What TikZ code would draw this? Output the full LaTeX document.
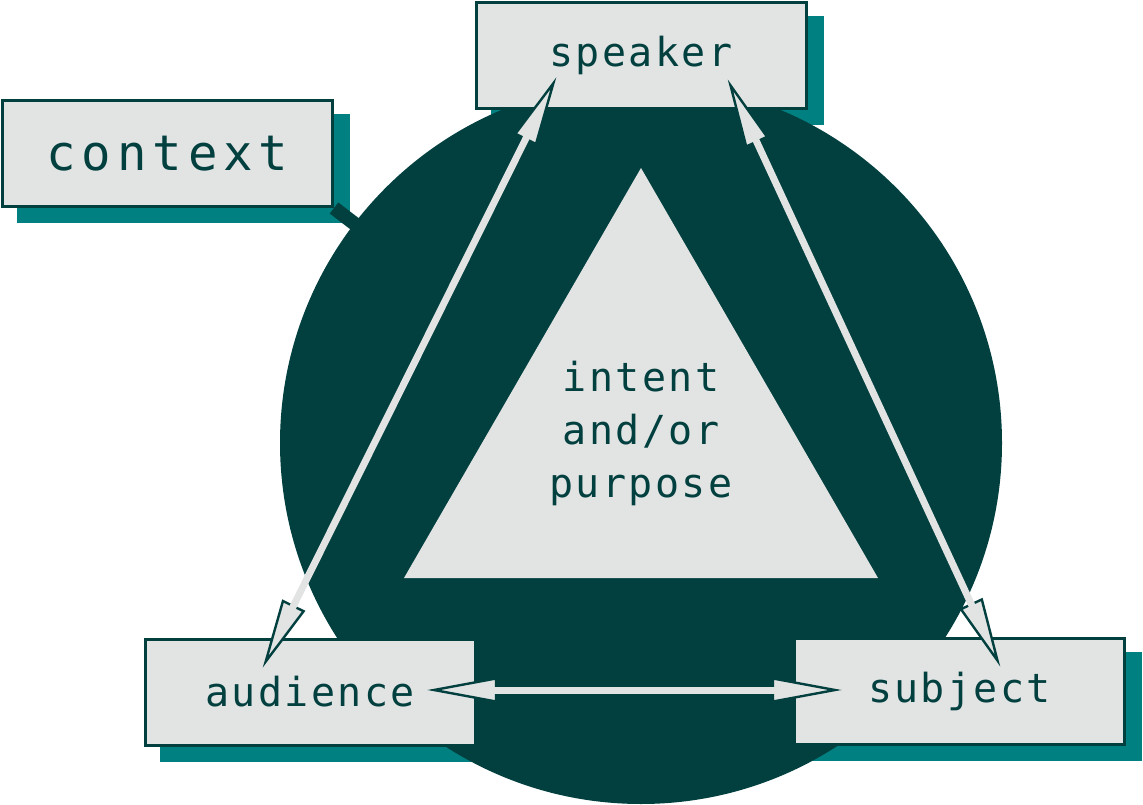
\documentclass[tikz,border=0pt]{standalone}
\usepackage{fontspec}
\newfontfamily\boxfont[LetterSpace=6]{DejaVu Sans Mono}
\newfontfamily\ctxfont[LetterSpace=12]{DejaVu Sans Mono}
\usetikzlibrary{calc}
\definecolor{dk}{HTML}{024040}
\definecolor{sh}{HTML}{008080}
\definecolor{lt}{HTML}{E2E4E3}
\pgfdeclarelayer{shadowlayer}
\pgfdeclarelayer{disclayer}
\pgfsetlayers{shadowlayer,disclayer,main}
\tikzset{
  box/.style={draw=dk, line width=3pt, fill=lt, minimum width=330pt, minimum height=106pt,
    inner sep=0pt, text=dk, font=\boxfont\fontsize{40}{48}\selectfont},
  ctxbox/.style={box, font=\ctxfont\fontsize{49}{56}\selectfont},
  shadowfill/.style={fill=sh},
  disc/.style={fill=dk},
  tri/.style={fill=lt},
  linker/.style={draw=dk, line width=14pt},
  headshape/.style={fill=lt, draw=dk, line width=2.4pt, line join=miter},
  shaft/.style={draw=lt, line width=7pt},
  midtext/.style={text=dk, align=center, font=\boxfont\fontsize{40}{53}\selectfont}
}
\begin{document}
\begin{tikzpicture}[x=1pt,y=-1pt]
\useasboundingbox (0,0) rectangle (1143,805);
\coordinate (cc) at (641,443);
% boxes
\node[box] (speaker) at (641,55.5) {speaker};
\node[ctxbox] (context) at (167.5,153.5) {context};
\node[box] (audience) at (310,692) {audience};
\node[box] (subject) at (959.5,691.5) {subject};
% shadows
\begin{pgfonlayer}{shadowlayer}
\foreach \n in {speaker,context,audience,subject}
  \fill[shadowfill] ($(\n.north west)+(16,15)$) rectangle ($(\n.south east)+(16,15)$);
\end{pgfonlayer}
% disc and context link
\begin{pgfonlayer}{disclayer}
\draw[linker] (context.south east) -- (cc);
\fill[disc] (cc) circle (361pt);
\end{pgfonlayer}
% triangle
\fill[tri] (641,168) -- (404,578) -- (878,578) -- cycle;
\node[midtext] (purpose) at (641,433) {intent\\and/or\\purpose};
% arrow ends
\coordinate (t1a) at (556,78);
\coordinate (t1b) at (263,667);
\coordinate (t2a) at (728,80);
\coordinate (t2b) at (1000,666);
\coordinate (t3a) at (428,690);
\coordinate (t3b) at (841,690);
\foreach \a/\b in {t1a/t1b, t2a/t2b, t3a/t3b} {
  \coordinate (ba) at ($(\a)!68pt!(\b)$);
  \coordinate (bb) at ($(\b)!68pt!(\a)$);
  \filldraw[headshape] ($(\a)!6pt!(\b)$) -- ($(ba)!11.5pt!90:(\a)$) -- ($(ba)!11.5pt!-90:(\a)$) -- cycle;
  \filldraw[headshape] ($(\b)!6pt!(\a)$) -- ($(bb)!11.5pt!90:(\b)$) -- ($(bb)!11.5pt!-90:(\b)$) -- cycle;
  \draw[shaft] ($(\a)!54pt!(\b)$) -- ($(\b)!54pt!(\a)$);
}
\end{tikzpicture}
\end{document}
